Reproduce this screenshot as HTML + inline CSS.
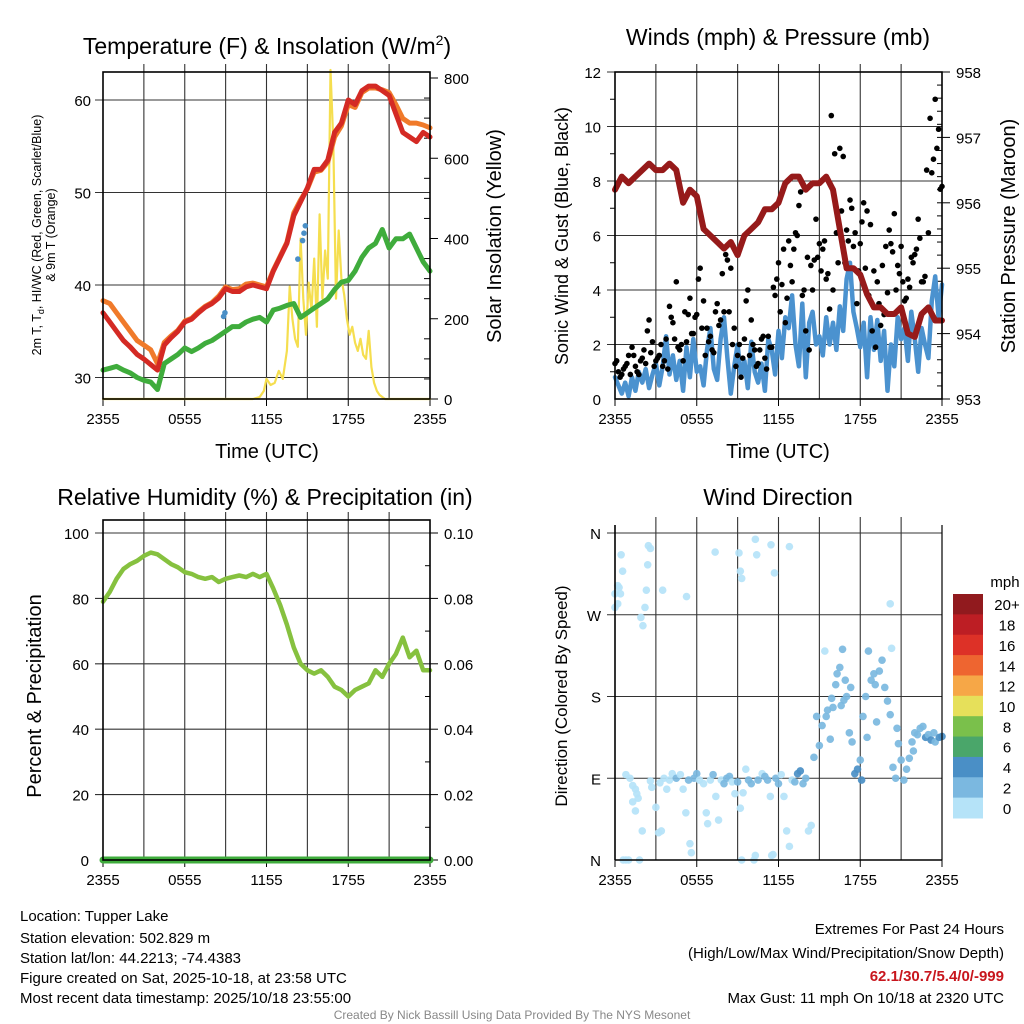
<!DOCTYPE html>
<html><head><meta charset="utf-8">
<style>
html,body{margin:0;padding:0;background:#fff;}
svg{display:block;font-family:"Liberation Sans",Arial,sans-serif;}
</style></head>
<body>
<svg id="chart" width="1024" height="1024" viewBox="0 0 1024 1024" xmlns="http://www.w3.org/2000/svg">
<rect width="1024" height="1024" fill="#fff"/>
<text x="267" y="54" font-size="23" text-anchor="middle">Temperature (F) &amp; Insolation (W/m<tspan dy="-9" font-size="14">2</tspan><tspan dy="9">)</tspan></text>
<text x="778" y="45" font-size="23" text-anchor="middle">Winds (mph) &amp; Pressure (mb)</text>
<text x="265" y="505" font-size="23" text-anchor="middle">Relative Humidity (%) &amp; Precipitation (in)</text>
<text x="778" y="505" font-size="23" text-anchor="middle">Wind Direction</text>
<g id="p1"></g>
<g id="p2"></g>
<g id="p3"></g>
<g id="p4"></g>
<g font-size="15">
<text x="20" y="921">Location: Tupper Lake</text>
<text x="20" y="943">Station elevation: 502.829 m</text>
<text x="20" y="963">Station lat/lon: 44.2213; -74.4383</text>
<text x="20" y="983">Figure created on Sat, 2025-10-18, at 23:58 UTC</text>
<text x="20" y="1003">Most recent data timestamp: 2025/10/18 23:55:00</text>
</g>
<g font-size="15" text-anchor="end">
<text x="1004" y="934">Extremes For Past 24 Hours</text>
<text x="1004" y="958">(High/Low/Max Wind/Precipitation/Snow Depth)</text>
<text x="1004" y="981" fill="#c8161d" font-weight="bold">62.1/30.7/5.4/0/-999</text>
<text x="1004" y="1003">Max Gust: 11 mph On 10/18 at 2320 UTC</text>
</g>
<text x="512" y="1019" font-size="12" fill="#888" text-anchor="middle">Created By Nick Bassill Using Data Provided By The NYS Mesonet</text>
</svg>
<script>
// ---- data ----
const xTickLabels = ["2355","0555","1155","1755","2355"];
const halfHours = Array.from({length:49},(_, i)=>i*0.5);
const tempRed = [37,36,35,34,33.3,32.5,32,31.4,30.8,33.5,34.3,35,36,36.3,37,37.6,38,38.6,39.6,39.3,39.3,39.8,40,39.8,39.6,41.5,43,44.5,47.5,49,50.5,52.5,52.5,53.5,56.5,57.5,60,59.5,61,61.5,61.5,61,60.5,58.5,56.5,56,55.5,56.5,56];
const temp9m = [38.3,38,37,36,35,34,33.5,33,31.5,33.8,34.5,35.1,36.1,36.4,37.1,37.7,38.1,38.8,39.8,39.5,39.6,40.1,40.2,40,39.8,41.6,43.1,44.6,47.8,49.2,50.4,52.2,52.4,53.3,56,57.2,59.5,59.2,60.8,61.3,61.3,61.1,60.8,59.5,58,57.5,57.5,57.3,57];
const dewGreen = [30.8,31,31.2,30.8,30.5,30,29.7,29.5,28.7,31.5,32,32.5,33.2,32.8,33.2,33.7,34,34.5,35,35.5,35.5,36,36.3,36.5,36,37.3,37.5,37.8,38,36.5,37,37.5,38,38.5,39.5,40.3,40.5,41.5,43,44,44.5,46,44,45,45,45.5,44,42.5,41.5];
const hiwcHours = [8.85,8.95,14.3,14.65,14.75,14.85];
const hiwcValues = [36.6,37.0,42.8,44.8,45.6,46.4];
const solarHours = [0,11,11.5,11.8,12,12.3,12.6,12.9,13.2,13.5,13.7,13.9,14.1,14.3,14.5,14.7,14.9,15.1,15.3,15.5,15.7,15.9,16.1,16.3,16.5,16.7,16.9,17.1,17.3,17.5,17.7,17.9,18.1,18.3,18.5,18.7,18.9,19.1,19.3,19.5,19.7,19.9,20.1,20.3,20.5,20.7,20.9,21.2,21.5,21.8,22.1,24];
const solarValues = [0,0,5,20,50,35,40,70,50,120,280,200,150,130,400,250,160,290,220,350,180,460,250,370,300,820,640,250,420,300,260,200,160,180,140,120,150,110,100,170,80,40,20,10,5,0,0,0,0,0,0,0];
const pressure = [956.2,956.4,956.3,956.4,956.5,956.6,956.5,956.5,956.6,956.5,956.0,956.2,956.1,955.6,955.5,955.4,955.3,955.4,955.2,955.5,955.6,955.7,955.9,955.9,956.0,956.3,956.4,956.4,956.2,956.3,956.3,956.4,956.2,955.6,955.0,955.0,954.9,954.6,954.4,954.4,954.3,954.3,954.4,954.0,953.95,954.3,954.4,954.2,954.2];
const windSpeed = [0.8,0.5,0.2,0.6,0.1,0.8,0.3,1.0,0.6,1.1,0.4,0.9,1.3,
 0.5,1.2,2.3,0.9,1.6,0.7,1.4,0.3,1.9,0.8,2.2,1.0,
 1.2,0.5,1.8,2.6,1.1,0.7,2.2,3.0,1.5,0.2,1.2,2.0,
 0.8,1.4,0.4,2.1,1.0,0.6,1.3,0.3,2.2,1.8,0.9,2.5,
 1.5,3.0,2.6,3.8,2.0,1.2,3.5,0.8,2.8,3.2,2.0,2.3,
 1.6,3.0,2.0,2.8,1.8,3.4,2.5,4.4,5.0,3.2,2.6,1.9,
 2.8,0.8,3.0,1.8,2.9,1.4,2.5,0.3,2.0,1.2,3.0,2.2,
 2.6,1.4,3.2,2.2,1.0,2.6,2.0,1.5,3.6,4.5,3.0,4.2];
const gustA = [1.3,1.0,0.9,1.2,1.6,1.9,1.2,0.9,1.5,1.3,2.9,2.1,1.4,
 1.6,1.2,2.2,3.4,2.8,4.3,1.8,1.4,2.1,3.7,2.4,3.1,
 4.8,3.6,2.6,2.3,1.7,3.5,2.9,3.2,5.1,4.8,2.6,1.6,
 0.8,2.2,4.0,2.9,1.8,1.3,2.2,1.5,2.3,1.9,3.8,5.0,
 4.2,2.8,5.8,4.3,6.1,7.1,3.8,2.5,1.8,4.0,6.6,5.7,
 5.5,4.4,3.3,4.0,6.1,9.2,8.9,6.2,7.3,5.6,3.5,5.7,
 7.2,6.9,6.4,4.7,4.3,2.7,3.1,3.9,5.7,6.8,4.9,5.6,
 3.6,4.4,5.2,5.3,6.6,4.3,4.5,6.1,8.3,11.0,9.9,7.8];
const gustB = [1.4,0.8,1.1,1.3,0.9,1.6,1.0,1.4,1.8,2.5,1.7,1.2,1.5,
 2.0,1.4,1.1,3.0,2.2,1.9,2.0,3.2,3.1,2.4,3.0,
 4.4,2.6,1.6,2.1,1.8,3.2,2.7,4.6,5.3,3.2,2.0,1.2,
 2.0,1.5,3.6,1.6,2.0,1.2,1.8,2.3,1.1,1.9,4.1,4.4,
 3.2,5.5,3.7,4.9,5.5,6.0,7.6,4.0,5.2,4.9,5.1,5.2,
 4.7,5.8,4.6,10.4,9.0,5.0,6.9,5.0,5.8,7.0,6.1,4.7,
 6.5,4.8,3.8,2.5,1.9,3.5,4.9,5.6,6.2,5.4,4.0,4.6,
 4.3,3.7,4.1,5.0,5.5,5.9,4.3,8.4,10.3,8.8,9.2,7.7];
const rh = [79,82,86,89,90.5,91.5,93,94,93.5,92,90.5,89.5,88,87.5,86.5,86,86.5,85,86,86.5,87,86.5,87.5,86.5,87.5,83,78,72,65,60,58,57,58,56,53,52,50,52,53,54,58,56,60,63,68,62,64,58,58];
const precip = new Array(49).fill(0);
const dirHours = [-0.1,0,0.2,0.3,0.4,0.45,0.56,0.2,1.9,2.05,2.2,2.3,2.4,2.45,2.6,3.5,5.25,7.35,9.1,9.2,9.3,10.3,10.4,11.45,11.7,12.8,
 0.8,1.1,1.3,1.5,1.7,1.6,1.3,1.5,2.0,2.6,2.7,3.0,3.3,3.4,3.2,3.6,3.8,4.0,4.2,4.5,4.8,5.0,5.2,5.4,5.5,5.6,5.8,6.0,6.2,6.5,6.7,6.8,7.0,7.2,7.4,7.6,7.8,8.0,8.2,8.4,8.6,8.8,9.0,9.2,9.4,9.6,9.8,10.0,10.2,10.5,10.8,11.0,11.2,11.4,11.6,11.8,12.0,12.2,12.4,12.6,12.8,13.0,13.2,13.4,13.6,13.8,14.0,14.2,14.4,14.6,14.8,
 0.6,0.8,1.0,1.8,9.3,10.3,11.5,
 15.0,15.2,15.5,15.6,15.8,16.0,16.2,16.5,16.3,16.7,16.9,17.0,17.2,17.4,17.6,17.8,18.0,18.2,18.4,18.5,18.6,18.8,19.0,19.2,19.4,19.6,19.8,20.0,20.2,20.4,20.6,20.8,21.0,21.2,21.4,21.6,21.8,22.0,22.2,22.4,22.6,22.8,23.0,23.2,23.5,23.8,24.0,17.3,16.8,15.4,20.2,20.3,18.1,16.6,15.9,19.1,20.7,21.9,23.4];
const dirDeg = [293,278,282,300,293,336,318,302,267,258,278,297,325,346,343,297,290,339,338,318,310,353,336,347,316,345,
 94,90,82,78,68,73,64,54,32,87,80,58,85,32,30,90,78,88,95,90,94,78,52,88,18,8,90,95,88,84,52,40,88,94,70,44,88,84,90,92,86,73,86,57,74,100,88,84,0,88,95,92,88,70,6,90,84,94,70,32,15,88,86,95,98,84,90,32,38,113,158,
 0,0,0,0,0,5,5,
 126,148,158,165,133,168,193,212,205,232,198,180,140,130,95,100,110,158,180,135,230,198,205,152,208,220,190,175,160,102,90,128,110,88,100,112,130,140,138,145,147,135,138,132,130,135,136,190,176,230,282,233,88,170,178,193,145,120,140];
const dirSpeed = [1,1,1,1,1,1,1,1,1,1,1,1,1,1,1,1,1,1,1,1,1,1,1,1,1,1,
 1,1,1,1,1,1,1,1,1,1,1,1,1,1,1,1,1,1,1,3,1,1,1,3,1,1,3,3,1,1,1,1,1,3,1,1,1,3,3,3,1,1,3,1,1,1,3,3,1,3,1,3,3,1,1,3,3,1,1,1,1,1,3,4.5,4.5,3,3,1,1,3,3,
 1,1,1,1,1,1,1,
 3,3,3,3,3,3,3,3,3,3,3,3,3,3,4.5,4.5,3,3,3,3,3,3,3,3,3,3,3,3,3,3,3,3,3,3,3,3,3,3,3,3,3,4.5,3,4.5,3,4.5,4.5,3,3,1,1,1,4.5,3,3,3,3,3,3];
const cbLabels = ["20+","18","16","14","12","10","8","6","4","2","0"];
const cbColors = ["#911a1e","#bd1e24","#dd3127","#ee6530","#f6a747","#e6e05a","#7ac04b","#4aa66a","#4a8fc6","#7bb8e0","#b5e3f8"];
const dirLabels = ["N","E","S","W","N"];

// ---- helpers ----
const NS="http://www.w3.org/2000/svg";
function mk(parent, tag, attrs){const e=document.createElementNS(NS,tag);for(const k in attrs)e.setAttribute(k,attrs[k]);parent.appendChild(e);return e;}
function axisFn(d0,d1,p0,p1){return v=>p0+(v-d0)/(d1-d0)*(p1-p0);}
function txt(parent,x,y,s,size,anchor,rot){const t=mk(parent,'text',{x:x,y:y,'font-size':size,'text-anchor':anchor||'middle'});if(rot)t.setAttribute('transform','rotate('+rot+' '+x+' '+y+')');t.textContent=s;return t;}
function polyline(parent,xs,ys,fx,fy,color,w,name){
  const pts=xs.map((h,i)=>fx(h).toFixed(1)+','+fy(ys[i]).toFixed(1)).join(' ');
  const p=mk(parent,'polyline',{points:pts,fill:'none',stroke:color,'stroke-width':w,'stroke-linejoin':'round','stroke-linecap':'round'});
  
  
  return p;
}
function frame(g,x0,x1,y0,y1,fx,hLines,fyL,minorRight){
  for(let h=3;h<24;h+=3){const l=mk(g,'line',{x1:fx(h),x2:fx(h),y1:y0-8,y2:y1,stroke:'#333','stroke-width':1.1});}
  hLines.forEach(v=>{mk(g,'line',{x1:x0-8,x2:x1,y1:fyL(v),y2:fyL(v),stroke:'#333','stroke-width':1.1});});
  xTickLabels.forEach((s,i)=>{const x=fx(i*6);mk(g,'line',{x1:x,x2:x,y1:y1,y2:y1+7,stroke:'#000'});const t=txt(g,x,y1+25,s,15);
    
    });
}
function box(g,x0,x1,y0,y1){mk(g,'rect',{x:x0,y:y0,width:x1-x0,height:y1-y0,fill:'none',stroke:'#000','stroke-width':1.6});}

// ---- Panel 1 ----
(function(){
  const g=document.getElementById('p1');
  const X0=103,X1=430,Y0=72,Y1=399;
  const fx=axisFn(0,24,X0,X1), fy=axisFn(30,60,377.5,100), fs=axisFn(0,800,399,78);
  frame(g,X0,X1,Y0,Y1,fx,[30,40,50,60],fy);
  [30,40,50,60].forEach(v=>{const t=txt(g,X0-12,fy(v)+6,String(v),15,'end');
    
    });
  [0,200,400,600,800].forEach(v=>{mk(g,'line',{x1:X1,x2:X1+8,y1:fs(v),y2:fs(v),stroke:'#000'});const t=txt(g,X1+14,fs(v)+6,String(v),15,'start');
    
    });
  for(let v=50;v<800;v+=50){if(v%200)mk(g,'line',{x1:X1-6,x2:X1,y1:fs(v),y2:fs(v),stroke:'#000'});}
  polyline(g,solarHours,solarValues,fx,fs,'#f5de4f',2.2,'insolation-line');
  polyline(g,halfHours,dewGreen,fx,fy,'#3fac3c',5,'dewpoint-line');
  polyline(g,halfHours,temp9m,fx,fy,'#f07a2a',5,'temp-9m-line');
  polyline(g,halfHours,tempRed,fx,fy,'#d42a24',5,'temp-2m-line');
  hiwcHours.forEach((h,i)=>{const c=mk(g,'circle',{cx:fx(h),cy:fy(hiwcValues[i]),r:2.8,fill:'#4a8fc6'});
    
    });
  box(g,X0,X1,Y0,Y1);
  let t=txt(g,267,458,'Time (UTC)',20);
  t=txt(g,41,235,'2m T, T',12.5,'middle',-90);
  t.innerHTML='2m T, T<tspan font-size="9" dy="3">d</tspan><tspan dy="-3">, HI/WC (Red, Green, Scarlet/Blue)</tspan>';
  
  t=txt(g,55,235,'& 9m T (Orange)',12.5,'middle',-90);
  t=txt(g,501,236,'Solar Insolation (Yellow)',20,'middle',-90);
})();

// ---- Panel 2 ----
(function(){
  const g=document.getElementById('p2');
  const X0=615,X1=942,Y0=72,Y1=399;
  const fx=axisFn(0,24,X0,X1), fy=axisFn(0,12,399,72), fp=axisFn(953,958,399,72);
  frame(g,X0,X1,Y0,Y1,fx,[2,4,6,8,10,12],fy);
  [0,2,4,6,8,10,12].forEach(v=>{const t=txt(g,X0-14,fy(v)+6,String(v),15,'end');
    
    });
  [953,954,955,956,957,958].forEach(v=>{mk(g,'line',{x1:X1,x2:X1+8,y1:fp(v),y2:fp(v),stroke:'#000'});const t=txt(g,X1+14,fp(v)+6,String(v),15,'start');
    
    });
  for(let v=953.2;v<958;v+=0.2){mk(g,'line',{x1:X1-5,x2:X1,y1:fp(v),y2:fp(v),stroke:'#000'});}
  for(let v=1;v<12;v+=2){mk(g,'line',{x1:X0-5,x2:X0,y1:fy(v),y2:fy(v),stroke:'#000'});}
  const qh=windSpeed.map((_,i)=>i*0.25);
  polyline(g,qh,windSpeed,fx,fy,'#4b92cf',4.5,'sonic-wind-line');
  gustA.forEach((v,i)=>{const c=mk(g,'circle',{cx:fx(i*0.25),cy:fy(v),r:2.8,fill:'#000'});
    
    });
  gustB.forEach((v,i)=>{const c=mk(g,'circle',{cx:fx(i*0.25+0.125),cy:fy(v),r:2.8,fill:'#000'});
    
    });
  polyline(g,halfHours,pressure,fx,fp,'#961a1a',6,'pressure-line');
  box(g,X0,X1,Y0,Y1);
  let t=txt(g,778,458,'Time (UTC)',20);
  t=txt(g,568,236,'Sonic Wind & Gust (Blue, Black)',18,'middle',-90);
  t=txt(g,1015,236,'Station Pressure (Maroon)',20,'middle',-90);
})();

// ---- Panel 3 ----
(function(){
  const g=document.getElementById('p3');
  const X0=103,X1=430,Y0=520,Y1=860;
  const fx=axisFn(0,24,X0,X1), fy=axisFn(0,100,860,533), fr=axisFn(0,0.1,860,533);
  frame(g,X0,X1,Y0,Y1,fx,[20,40,60,80,100],fy);
  [0,20,40,60,80,100].forEach(v=>{const t=txt(g,X0-14,fy(v)+6,String(v),15,'end');
    
    });
  [0,0.02,0.04,0.06,0.08,0.10].forEach(v=>{mk(g,'line',{x1:X1,x2:X1+8,y1:fr(v),y2:fr(v),stroke:'#000'});const t=txt(g,X1+14,fr(v)+6,v.toFixed(2),15,'start');
    
    });
  for(let v=0.01;v<0.1;v+=0.02){mk(g,'line',{x1:X1-5,x2:X1,y1:fr(v),y2:fr(v),stroke:'#000'});}
  polyline(g,halfHours,rh,fx,fy,'#86c13f',4.5,'humidity-line');
  polyline(g,halfHours,precip,fx,fr,'#3fac3c',7,'precipitation-line');
  box(g,X0,X1,Y0,Y1);
  let t=txt(g,41,696,'Percent & Precipitation',20,'middle',-90);
})();

// ---- Panel 4 ----
(function(){
  const g=document.getElementById('p4');
  const X0=615,X1=942,Y0=525,Y1=860;
  const fx=axisFn(0,24,X0,X1), fy=axisFn(0,360,860,533);
  frame(g,X0,X1,Y0,Y1,fx,[90,180,270,360],fy);
  dirLabels.forEach((s,i)=>{const t=txt(g,X0-14,fy(i*90)+6,s,15,'end');
    
    });
  function col(s){const idx=Math.min(10,Math.floor(s/2));return cbColors[10-idx];}
  dirHours.forEach((h,i)=>{const c=mk(g,'circle',{cx:fx(Math.max(0,Math.min(24,h))),cy:fy(dirDeg[i]),r:3.8,fill:col(dirSpeed[i]),opacity:0.92});
    
    });
  mk(g,'line',{x1:X0,x2:X1,y1:860,y2:860,stroke:'#000','stroke-width':1.6});
  mk(g,'line',{x1:X0,x2:X0,y1:Y0,y2:Y1,stroke:'#000','stroke-width':1.6});
  mk(g,'line',{x1:X1,x2:X1,y1:Y0,y2:Y1,stroke:'#000','stroke-width':1.2});
  let t=txt(g,567,696,'Direction (Colored By Speed)',17,'middle',-90);
  const cb=mk(g,'g',{});
  
  
  const segH=(818-594)/11;
  cbColors.forEach((c,i)=>{mk(cb,'rect',{x:953,y:594+i*segH,width:30,height:segH+0.5,fill:c});
    const tl=txt(cb,1007,594+i*segH+segH/2+6,cbLabels[i],15,'middle');
    
    });
  t=txt(cb,1005,587,'mph',15,'middle');
})();
</script>
</body></html>
